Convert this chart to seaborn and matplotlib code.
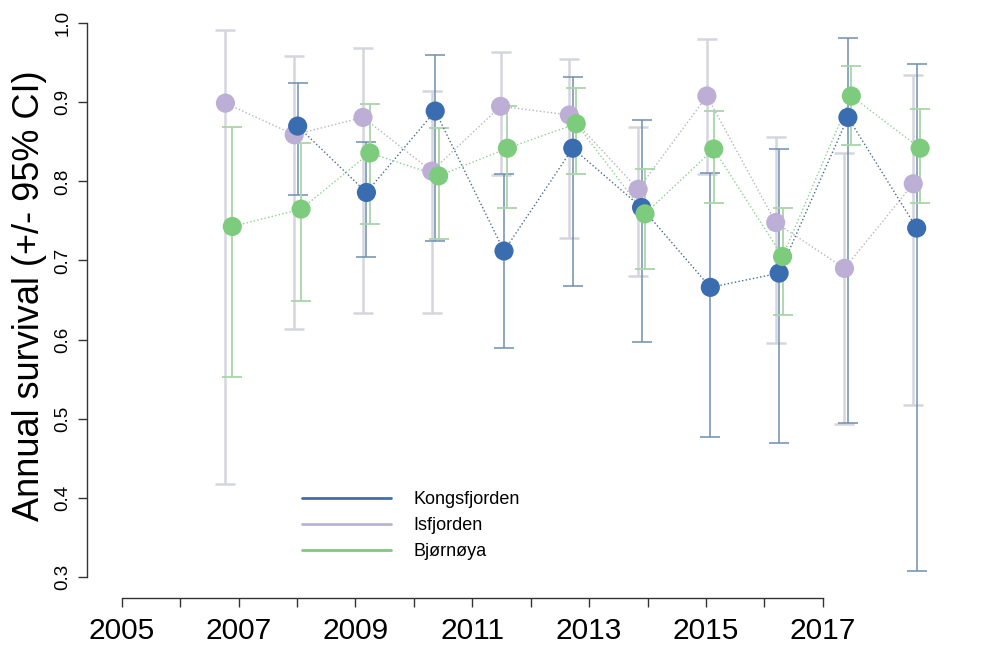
import pandas as pd
import numpy as np
import matplotlib
matplotlib.use("Agg")
import matplotlib.pyplot as plt
from matplotlib.lines import Line2D
import seaborn as sns

# values
years = list(range(2006, 2017))

kongs_years = list(range(2007, 2017))
kongs_est = [0.870, 0.786, 0.889, 0.712, 0.842, 0.767, 0.666, 0.684, 0.881, 0.741]
kongs_lo = [0.783, 0.704, 0.725, 0.589, 0.668, 0.597, 0.477, 0.469, 0.495, 0.307]
kongs_hi = [0.925, 0.850, 0.960, 0.810, 0.932, 0.878, 0.811, 0.841, 0.982, 0.948]

isf_est = [0.899, 0.859, 0.881, 0.813, 0.895, 0.884, 0.790, 0.908, 0.748, 0.690, 0.797]
isf_lo = [0.417, 0.613, 0.633, 0.633, 0.808, 0.729, 0.680, 0.810, 0.595, 0.493, 0.517]
isf_hi = [0.991, 0.959, 0.969, 0.915, 0.964, 0.955, 0.869, 0.980, 0.856, 0.836, 0.935]

bjo_est = [0.743, 0.765, 0.836, 0.807, 0.842, 0.873, 0.759, 0.841, 0.705, 0.908, 0.842]
bjo_lo = [0.552, 0.649, 0.746, 0.727, 0.767, 0.809, 0.689, 0.773, 0.631, 0.846, 0.773]
bjo_hi = [0.869, 0.849, 0.898, 0.868, 0.895, 0.918, 0.816, 0.889, 0.767, 0.946, 0.892]

sites = ["Isfjorden", "Kongsfjorden", "Bjørnøya"]
legend_order = ["Kongsfjorden", "Isfjorden", "Bjørnøya"]
tick_years = list(range(2005, 2018))
y_ticks = [0.3, 0.4, 0.5, 0.6, 0.7, 0.8, 0.9, 1.0]

# small horizontal dodge per site
dodge = {"Isfjorden": -0.05, "Kongsfjorden": 0.0, "Bjørnøya": 0.05}
marker_col = {"Kongsfjorden": "#3a6db0", "Isfjorden": "#bdaed6", "Bjørnøya": "#7dcb7d"}
err_col = {"Kongsfjorden": "#6f8fae", "Isfjorden": "#d5d5df", "Bjørnøya": "#a9d6a9"}
err_lw = {"Kongsfjorden": 1.1, "Isfjorden": 1.8, "Bjørnøya": 1.3}
line_col = {"Kongsfjorden": "#4a6b8a", "Isfjorden": "#b5b5c0", "Bjørnøya": "#8fcf8f"}
legend_col = {"Kongsfjorden": "#3f6fae", "Isfjorden": "#b9b3d3", "Bjørnøya": "#80c880"}


def build_frame():
    parts = [
        pd.DataFrame({"site": "Isfjorden", "year": years, "est": isf_est, "lo": isf_lo, "hi": isf_hi}),
        pd.DataFrame({"site": "Kongsfjorden", "year": kongs_years, "est": kongs_est, "lo": kongs_lo, "hi": kongs_hi}),
        pd.DataFrame({"site": "Bjørnøya", "year": years, "est": bjo_est, "lo": bjo_lo, "hi": bjo_hi}),
    ]
    df = pd.concat(parts, ignore_index=True)
    df["x"] = df["year"] + df["site"].map(dodge)
    return df


def main():
    sns.set_theme(style="white")
    plt.rcParams['font.family'] = ['Liberation Sans', 'DejaVu Sans']
    plt.rcParams['text.color'] = 'black'
    plt.rcParams['axes.labelcolor'] = 'black'
    plt.rcParams['xtick.color'] = 'black'
    plt.rcParams['ytick.color'] = 'black'

    df = build_frame()

    fig = plt.figure(figsize=(9.86, 6.48), dpi=100)
    W, H = 986, 648
    ax = fig.add_axes([86.7 / W, (H - 598.3) / H, (940 - 86.7) / W, (598.3 - 23.3) / H])

    # error bars first (behind everything)
    for site in sites:
        d = df[df.site == site]
        ax.errorbar(d.x, d.est, yerr=[d.est - d.lo, d.hi - d.est], fmt='none',
                    ecolor=err_col[site], elinewidth=err_lw[site], capsize=7.5,
                    capthick=err_lw[site], zorder=1)

    sns.lineplot(data=df, x="x", y="est", hue="site", palette=line_col, estimator=None,
                 linestyle=':', linewidth=1.0, legend=False, ax=ax, zorder=2)
    sns.scatterplot(data=df, x="x", y="est", hue="site", palette=marker_col, s=190,
                    edgecolor='none', linewidth=0, legend=False, ax=ax, zorder=3)

    ax.set_xlim(2003.933, 2016.339)
    ax.set_ylim(0.2727, 1.0)

    # the year axis of the original is drawn on its own scale
    tick_pos = [2004.442 + 0.8494 * (yr - 2005) for yr in tick_years]
    ax.set_xticks(tick_pos)
    ax.set_xticklabels([str(yr) if yr % 2 == 1 else "" for yr in tick_years], fontsize=21.5)
    ax.set_yticks(y_ticks)
    ax.set_yticklabels([f"{v:.1f}" for v in y_ticks], rotation=90, va='center', fontsize=13.5)
    ax.tick_params(axis='both', which='major', direction='out', length=6.5, width=1.0,
                   color='#333333', left=True, bottom=True)
    ax.tick_params(axis='x', pad=7)
    ax.tick_params(axis='y', pad=4.5)

    for s in ['top', 'right']:
        ax.spines[s].set_visible(False)
    ax.spines['left'].set_bounds(0.3, 1.0)
    ax.spines['bottom'].set_bounds(tick_pos[0], tick_pos[-1])
    for s in ['left', 'bottom']:
        ax.spines[s].set_color('#333333')
        ax.spines[s].set_linewidth(1.0)

    ax.set_xlabel("")
    ax.set_ylabel("Annual survival (+/- 95% CI)", fontsize=26)
    ax.yaxis.set_label_coords(-0.046, 0.526)
    ax.grid(False)

    handles = [Line2D([0], [0], color=legend_col[s], lw=2) for s in legend_order]
    fig.legend(handles, legend_order, loc='upper left',
               bbox_to_anchor=(302.3 / W, 1 - 491.0 / H), frameon=False,
               borderpad=0, borderaxespad=0, handlelength=4.9, handletextpad=1.25,
               labelspacing=0.5, fontsize=13)

    fig.savefig("out.png", dpi=100)
    plt.close(fig)


if __name__ == '__main__':
    main()
